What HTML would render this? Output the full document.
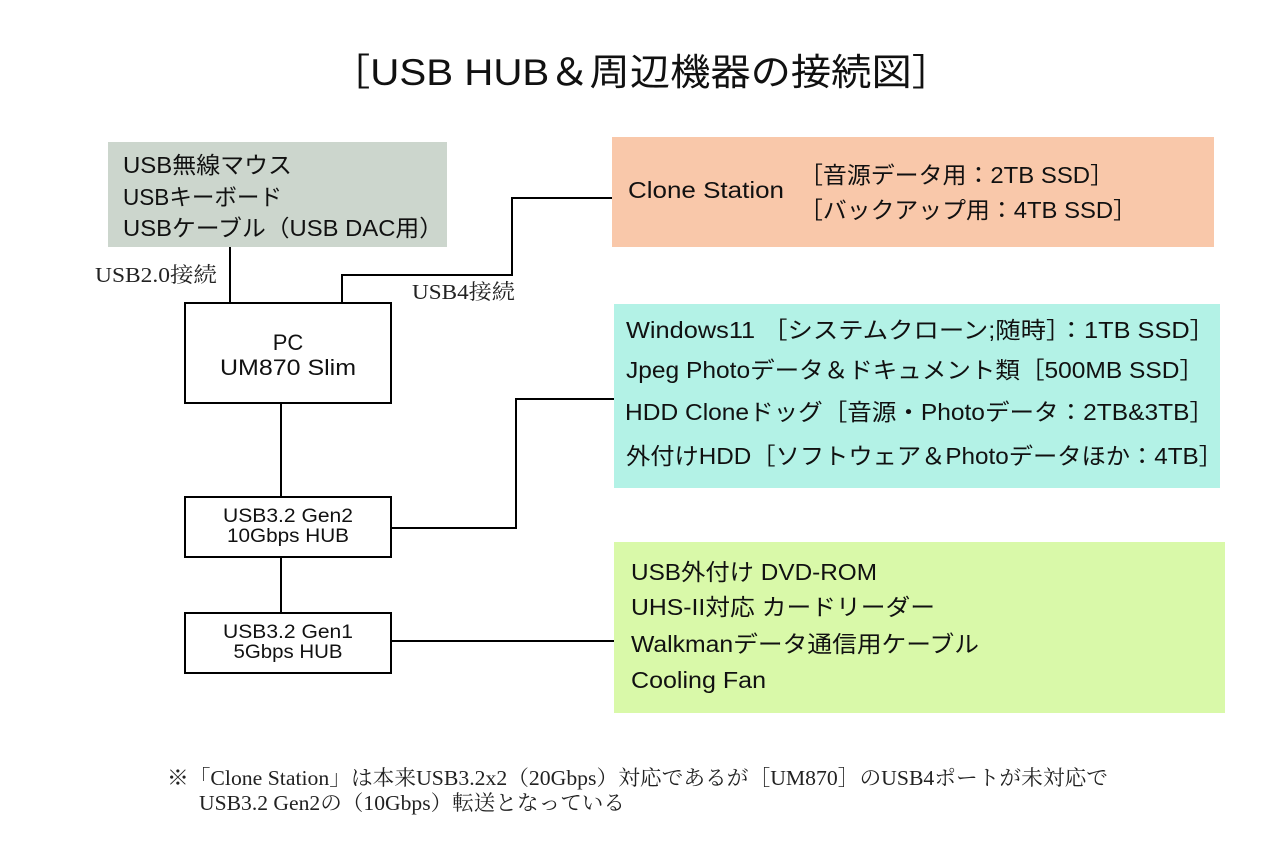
<!DOCTYPE html>
<html><head><meta charset="utf-8">
<style>
html,body{margin:0;padding:0;background:#fff;}
svg{display:block;}
.s{font-family:"Liberation Sans","Noto Sans CJK JP",sans-serif;fill:#111;}
.m{font-family:"Liberation Serif","Noto Serif CJK SC",serif;fill:#222;}
</style></head>
<body>
<svg width="1280" height="853" viewBox="0 0 1280 853" xmlns="http://www.w3.org/2000/svg">
<rect x="0" y="0" width="1280" height="853" fill="#fff"/>
<!-- title -->
<text class="s" x="330" y="85" font-size="37" textLength="622" lengthAdjust="spacingAndGlyphs">［USB HUB＆周辺機器の接続図］</text>

<!-- boxes -->
<rect x="108" y="142" width="339" height="105" fill="#ccd6cd"/>
<rect x="612" y="137" width="602" height="110" fill="#f9c8aa"/>
<rect x="614" y="304" width="606" height="184" fill="#b3f2e6"/>
<rect x="614" y="542" width="611" height="171" fill="#d9f9a9"/>

<!-- connectors -->
<g stroke="#000" stroke-width="2" fill="none">
<line x1="230" y1="247" x2="230" y2="304"/>
<polyline points="342,304 342,275 512,275 512,198 612,198"/>
<line x1="281" y1="403" x2="281" y2="497"/>
<line x1="281" y1="557" x2="281" y2="613"/>
<polyline points="391,528 516,528 516,399 614,399"/>
<line x1="391" y1="641" x2="614" y2="641"/>
</g>

<!-- node boxes -->
<g stroke="#000" stroke-width="2" fill="#fff">
<rect x="185" y="303" width="206" height="100"/>
<rect x="185" y="497" width="206" height="60"/>
<rect x="185" y="613" width="206" height="60"/>
</g>

<!-- gray box text -->
<text class="s" x="123" y="173" font-size="23" textLength="169" lengthAdjust="spacingAndGlyphs">USB無線マウス</text>
<text class="s" x="123" y="205" font-size="23" textLength="159" lengthAdjust="spacingAndGlyphs">USBキーボード</text>
<text class="s" x="123" y="236" font-size="23" textLength="320" lengthAdjust="spacingAndGlyphs">USBケーブル（USB DAC用）</text>

<!-- PC -->
<text class="s" x="288" y="350" font-size="22" text-anchor="middle">PC</text>
<text class="s" x="288" y="375" font-size="22" text-anchor="middle" textLength="136" lengthAdjust="spacingAndGlyphs">UM870 Slim</text>

<!-- hubs -->
<text class="s" x="288" y="522" font-size="19" text-anchor="middle" textLength="130" lengthAdjust="spacingAndGlyphs">USB3.2 Gen2</text>
<text class="s" x="288" y="542" font-size="19" text-anchor="middle" textLength="122" lengthAdjust="spacingAndGlyphs">10Gbps HUB</text>
<text class="s" x="288" y="638" font-size="19" text-anchor="middle" textLength="130" lengthAdjust="spacingAndGlyphs">USB3.2 Gen1</text>
<text class="s" x="288" y="658" font-size="19" text-anchor="middle" textLength="109" lengthAdjust="spacingAndGlyphs">5Gbps HUB</text>

<!-- connector labels -->
<text class="m" x="95" y="282" font-size="21" textLength="122" lengthAdjust="spacingAndGlyphs">USB2.0接続</text>
<text class="m" x="412" y="299" font-size="21" textLength="103" lengthAdjust="spacingAndGlyphs">USB4接続</text>

<!-- orange -->
<text class="s" x="628" y="198" font-size="23" textLength="156" lengthAdjust="spacingAndGlyphs">Clone Station</text>
<text class="s" x="799" y="183" font-size="23" textLength="315" lengthAdjust="spacingAndGlyphs">［音源データ用：2TB SSD］</text>
<text class="s" x="799" y="218" font-size="23" textLength="338" lengthAdjust="spacingAndGlyphs">［バックアップ用：4TB SSD］</text>

<!-- teal -->
<text class="s" x="626" y="338" font-size="23" textLength="589" lengthAdjust="spacingAndGlyphs">Windows11 ［システムクローン;随時］：1TB SSD］</text>
<text class="s" x="626" y="378" font-size="23" textLength="578" lengthAdjust="spacingAndGlyphs">Jpeg Photoデータ＆ドキュメント類［500MB SSD］</text>
<text class="s" x="625" y="420" font-size="23" textLength="589" lengthAdjust="spacingAndGlyphs">HDD Cloneドッグ［音源・Photoデータ：2TB&amp;3TB］</text>
<text class="s" x="626" y="464" font-size="23" textLength="597" lengthAdjust="spacingAndGlyphs">外付けHDD［ソフトウェア＆Photoデータほか：4TB］</text>

<!-- green -->
<text class="s" x="631" y="580" font-size="23" textLength="246" lengthAdjust="spacingAndGlyphs">USB外付け DVD-ROM</text>
<text class="s" x="631" y="615" font-size="23" textLength="304" lengthAdjust="spacingAndGlyphs">UHS-II対応 カードリーダー</text>
<text class="s" x="631" y="652" font-size="23" textLength="348" lengthAdjust="spacingAndGlyphs">Walkmanデータ通信用ケーブル</text>
<text class="s" x="631" y="688" font-size="23" textLength="135" lengthAdjust="spacingAndGlyphs">Cooling Fan</text>

<!-- footer -->
<text class="m" x="167" y="785" font-size="21" textLength="941" lengthAdjust="spacingAndGlyphs">※「Clone Station」は本来USB3.2x2（20Gbps）対応であるが［UM870］のUSB4ポートが未対応で</text>
<text class="m" x="199" y="810" font-size="21" textLength="426" lengthAdjust="spacingAndGlyphs">USB3.2 Gen2の（10Gbps）転送となっている</text>
</svg>
</body></html>
